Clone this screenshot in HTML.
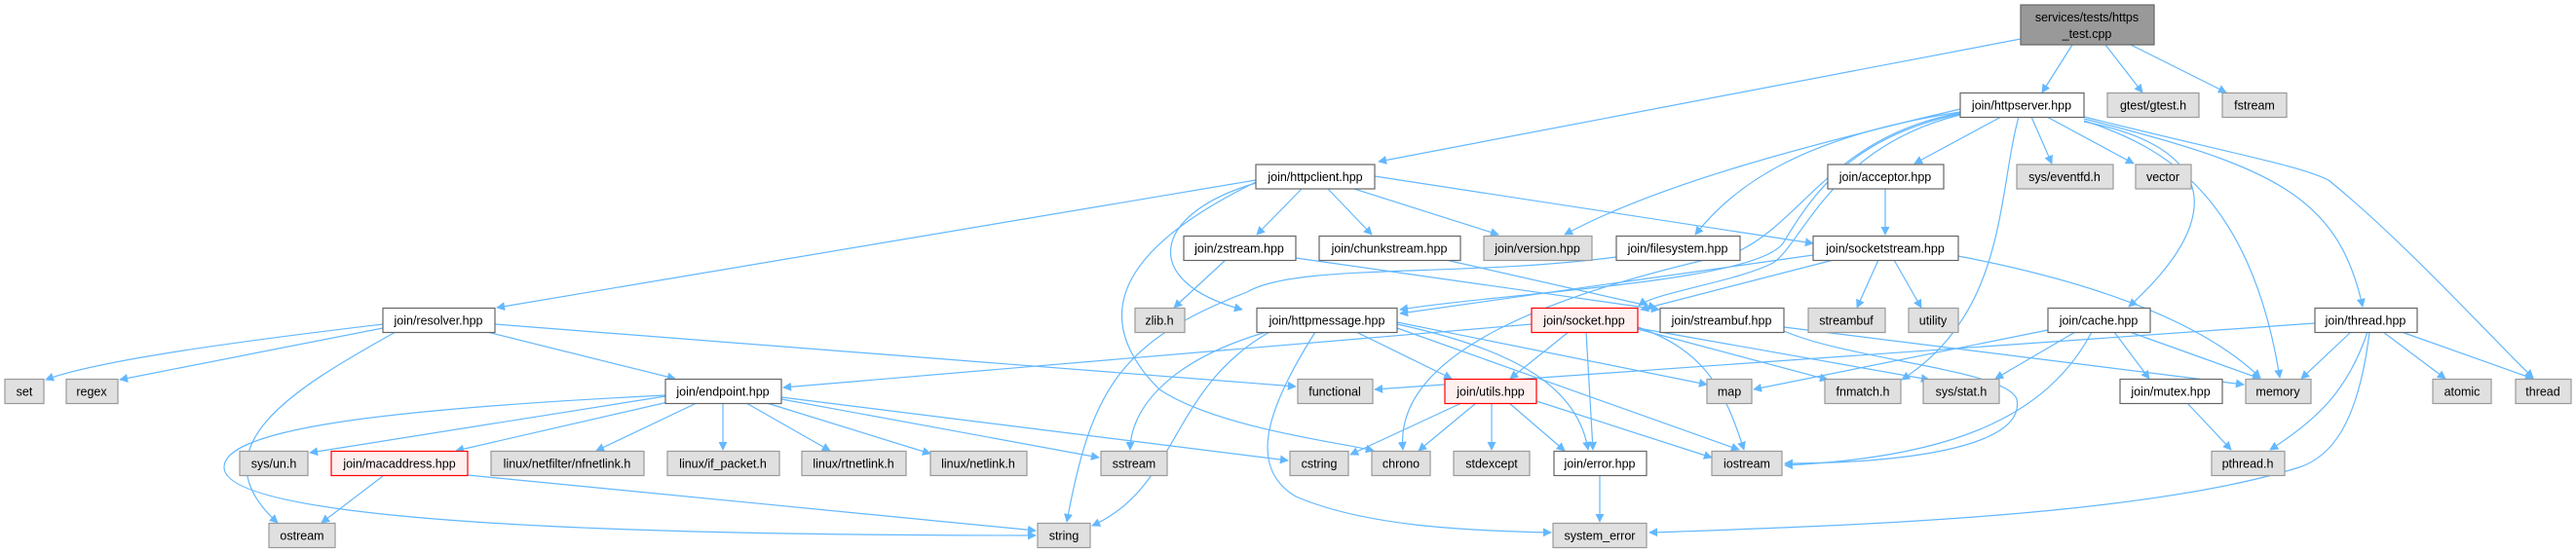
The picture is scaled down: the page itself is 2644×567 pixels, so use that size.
<!DOCTYPE html>
<html><head><meta charset="utf-8"><style>
html,body{margin:0;padding:0;background:#fff;}
svg{display:block;}
text{font-family:"Liberation Sans",Arial,sans-serif;font-size:12.5px;fill:#000;text-anchor:middle;}
.e{fill:none;stroke:#63b8ff;stroke-width:1.2;marker-end:url(#a);}
.w{fill:#fff;stroke:#666;stroke-width:1.2;}
.g{fill:#e0e0e0;stroke:#999;stroke-width:1.2;}
.r{fill:#fff0f0;stroke:#f00;stroke-width:1.2;}
.k{fill:#999;stroke:#666;stroke-width:1.2;}
</style></head><body>
<svg width="2644" height="567" viewBox="0 0 2644 567" xmlns="http://www.w3.org/2000/svg">
<defs><marker id="a" viewBox="0 0 10 10" refX="9" refY="5" markerWidth="9" markerHeight="9" markerUnits="userSpaceOnUse" orient="auto"><path d="M0,0 L10,5 L0,10 z" fill="#63b8ff"/></marker></defs>
<g>
<path class="e" d="M2074,40 L1415,166"/>
<path class="e" d="M2127,46 L2096,95"/>
<path class="e" d="M2161,46 L2199,95"/>
<path class="e" d="M2187,46 L2285,95"/>
<path class="e" d="M2054,120 L1965,168"/>
<path class="e" d="M2085,120 L2106,168"/>
<path class="e" d="M2101,120 L2190,168"/>
<path class="e" d="M2139,125 C2270,150 2290,220 2185,315"/>
<path class="e" d="M2139,124 C2220,150 2310,200 2340,388"/>
<path class="e" d="M2139,122 C2330,170 2400,200 2425,315"/>
<path class="e" d="M2139,120 C2300,160 2360,170 2390,185 C2470,250 2560,350 2600,388"/>
<path class="e" d="M2072,120 C2050,200 2060,320 1952,390"/>
<path class="e" d="M2012,112 C1850,150 1700,190 1606,241"/>
<path class="e" d="M2012,115 C1850,140 1780,190 1740,241"/>
<path class="e" d="M2012,117 C1900,140 1860,200 1830,250 C1800,290 1550,300 1437,318"/>
<path class="e" d="M2012,118 C1880,150 1850,250 1820,270 C1780,290 1700,300 1682,314"/>
<path class="e" d="M2012,116 C1880,140 1850,230 1780,260 C1600,300 1430,360 1440,462"/>
<path class="e" d="M1289,185 L510,316"/>
<path class="e" d="M1336,194 L1290,241"/>
<path class="e" d="M1363,194 L1408,241"/>
<path class="e" d="M1390,194 L1538,241"/>
<path class="e" d="M1411,181 L1861,250"/>
<path class="e" d="M1289,188 C1180,220 1170,290 1275,318"/>
<path class="e" d="M1289,187 C1160,250 1110,320 1190,400 C1250,440 1380,455 1410,463"/>
<path class="e" d="M1258,267 L1205,316"/>
<path class="e" d="M1330,265 L1703,318"/>
<path class="e" d="M1484,267 L1700,316"/>
<path class="e" d="M1659,264 C1500,285 1330,270 1280,300 C1150,350 1120,400 1095,536"/>
<path class="e" d="M1928,267 L1906,316"/>
<path class="e" d="M1944,267 L1972,316"/>
<path class="e" d="M2010,263 C2150,290 2260,330 2320,388"/>
<path class="e" d="M1882,267 L1684,318"/>
<path class="e" d="M1861,262 L1437,322"/>
<path class="e" d="M1935,194 L1935,241"/>
<path class="e" d="M393,333 C250,350 100,370 47,390"/>
<path class="e" d="M393,337 L123,390"/>
<path class="e" d="M500,341 L693,389"/>
<path class="e" d="M508,333 L1330,397"/>
<path class="e" d="M406,341 C300,400 200,460 285,537"/>
<path class="e" d="M683,407 L318,465"/>
<path class="e" d="M690,412 L468,463"/>
<path class="e" d="M715,414 L612,463"/>
<path class="e" d="M742,414 L742,462"/>
<path class="e" d="M766,414 L852,463"/>
<path class="e" d="M787,414 L955,466"/>
<path class="e" d="M802,410 L1128,470"/>
<path class="e" d="M802,408 L1322,473"/>
<path class="e" d="M683,406 C400,420 230,440 230,480 C230,540 700,550 1063,550"/>
<path class="e" d="M393,489 L330,537"/>
<path class="e" d="M480,488 L1063,545"/>
<path class="e" d="M1572,333 L804,398"/>
<path class="e" d="M1610,341 L1550,389"/>
<path class="e" d="M1628,341 L1635,462"/>
<path class="e" d="M1681,336 C1750,360 1770,400 1790,462"/>
<path class="e" d="M1681,338 L1876,390"/>
<path class="e" d="M1681,337 L1980,390"/>
<path class="e" d="M1300,341 C1200,370 1160,420 1160,462"/>
<path class="e" d="M1303,341 C1200,400 1210,500 1121,540"/>
<path class="e" d="M1392,341 L1490,389"/>
<path class="e" d="M1434,333 C1560,360 1620,400 1630,462"/>
<path class="e" d="M1434,337 L1785,462"/>
<path class="e" d="M1434,331 L1752,395"/>
<path class="e" d="M1350,341 C1300,420 1280,480 1330,510 C1400,540 1500,545 1592,547"/>
<path class="e" d="M1500,414 L1386,467"/>
<path class="e" d="M1515,414 L1456,463"/>
<path class="e" d="M1531,414 L1531,462"/>
<path class="e" d="M1549,414 L1606,463"/>
<path class="e" d="M1577,412 L1757,470"/>
<path class="e" d="M1642,488 L1642,536"/>
<path class="e" d="M1831,336 L2303,395"/>
<path class="e" d="M1831,340 C1900,370 2060,380 2070,410 C2080,460 1950,476 1832,476"/>
<path class="e" d="M2102,339 L1800,400"/>
<path class="e" d="M2130,341 L2048,389"/>
<path class="e" d="M2170,341 L2206,389"/>
<path class="e" d="M2186,341 L2320,389"/>
<path class="e" d="M2147,341 C2100,430 2000,470 1832,478"/>
<path class="e" d="M2376,332 L1411,400"/>
<path class="e" d="M2413,341 L2362,389"/>
<path class="e" d="M2446,341 L2510,389"/>
<path class="e" d="M2465,341 L2600,389"/>
<path class="e" d="M2430,341 C2410,400 2380,430 2330,462"/>
<path class="e" d="M2432,341 C2420,440 2390,470 2360,480 C2200,530 1900,540 1693,547"/>
<path class="e" d="M2245,414 L2290,462"/>
</g>
<g>
<rect class="k" x="2074" y="5" width="137" height="41"/><text x="2142" y="22">services/tests/https</text><text x="2142" y="39">_test.cpp</text>
<rect class="w" x="2012" y="95.5" width="127" height="25"/><text x="2075" y="112.5">join/httpserver.hpp</text>
<rect class="g" x="2163" y="95.5" width="94" height="25"/><text x="2210" y="112.5">gtest/gtest.h</text>
<rect class="g" x="2281" y="95.5" width="66" height="25"/><text x="2314" y="112.5">fstream</text>
<rect class="w" x="1289" y="169" width="122" height="25"/><text x="1350" y="186">join/httpclient.hpp</text>
<rect class="w" x="1876" y="169" width="119" height="25"/><text x="1935" y="186">join/acceptor.hpp</text>
<rect class="g" x="2070" y="169" width="99" height="25"/><text x="2119" y="186">sys/eventfd.h</text>
<rect class="g" x="2192" y="169" width="57" height="25"/><text x="2220" y="186">vector</text>
<rect class="w" x="1215" y="242.5" width="115" height="25"/><text x="1272" y="259.5">join/zstream.hpp</text>
<rect class="w" x="1354" y="242.5" width="145" height="25"/><text x="1426" y="259.5">join/chunkstream.hpp</text>
<rect class="g" x="1523" y="242.5" width="111" height="25"/><text x="1578" y="259.5">join/version.hpp</text>
<rect class="w" x="1659" y="242.5" width="127" height="25"/><text x="1722" y="259.5">join/filesystem.hpp</text>
<rect class="w" x="1861" y="242.5" width="149" height="25"/><text x="1935" y="259.5">join/socketstream.hpp</text>
<rect class="w" x="393" y="316.5" width="115" height="25"/><text x="450" y="333.5">join/resolver.hpp</text>
<rect class="g" x="1165" y="316.5" width="51" height="25"/><text x="1190" y="333.5">zlib.h</text>
<rect class="w" x="1290" y="316.5" width="144" height="25"/><text x="1362" y="333.5">join/httpmessage.hpp</text>
<rect class="r" x="1572" y="316.5" width="109" height="25"/><text x="1626" y="333.5">join/socket.hpp</text>
<rect class="w" x="1704" y="316.5" width="127" height="25"/><text x="1767" y="333.5">join/streambuf.hpp</text>
<rect class="g" x="1856" y="316.5" width="79" height="25"/><text x="1895" y="333.5">streambuf</text>
<rect class="g" x="1959" y="316.5" width="51" height="25"/><text x="1984" y="333.5">utility</text>
<rect class="w" x="2102" y="316.5" width="105" height="25"/><text x="2154" y="333.5">join/cache.hpp</text>
<rect class="w" x="2376" y="316.5" width="105" height="25"/><text x="2428" y="333.5">join/thread.hpp</text>
<rect class="g" x="5" y="389.5" width="40" height="25"/><text x="25" y="406.5">set</text>
<rect class="g" x="68" y="389.5" width="53" height="25"/><text x="94" y="406.5">regex</text>
<rect class="w" x="683" y="389.5" width="119" height="25"/><text x="742" y="406.5">join/endpoint.hpp</text>
<rect class="g" x="1332" y="389.5" width="77" height="25"/><text x="1370" y="406.5">functional</text>
<rect class="r" x="1483" y="389.5" width="94" height="25"/><text x="1530" y="406.5">join/utils.hpp</text>
<rect class="g" x="1752" y="389.5" width="46" height="25"/><text x="1775" y="406.5">map</text>
<rect class="g" x="1873" y="389.5" width="78" height="25"/><text x="1912" y="406.5">fnmatch.h</text>
<rect class="g" x="1974" y="389.5" width="78" height="25"/><text x="2013" y="406.5">sys/stat.h</text>
<rect class="w" x="2176" y="389.5" width="105" height="25"/><text x="2228" y="406.5">join/mutex.hpp</text>
<rect class="g" x="2305" y="389.5" width="67" height="25"/><text x="2338" y="406.5">memory</text>
<rect class="g" x="2497" y="389.5" width="60" height="25"/><text x="2527" y="406.5">atomic</text>
<rect class="g" x="2582" y="389.5" width="57" height="25"/><text x="2610" y="406.5">thread</text>
<rect class="g" x="246" y="463.5" width="70" height="25"/><text x="281" y="480.5">sys/un.h</text>
<rect class="r" x="340" y="463.5" width="140" height="25"/><text x="410" y="480.5">join/macaddress.hpp</text>
<rect class="g" x="504" y="463.5" width="157" height="25"/><text x="582" y="480.5">linux/netfilter/nfnetlink.h</text>
<rect class="g" x="685" y="463.5" width="115" height="25"/><text x="742" y="480.5">linux/if_packet.h</text>
<rect class="g" x="823" y="463.5" width="107" height="25"/><text x="876" y="480.5">linux/rtnetlink.h</text>
<rect class="g" x="955" y="463.5" width="99" height="25"/><text x="1004" y="480.5">linux/netlink.h</text>
<rect class="g" x="1130" y="463.5" width="68" height="25"/><text x="1164" y="480.5">sstream</text>
<rect class="g" x="1324" y="463.5" width="60" height="25"/><text x="1354" y="480.5">cstring</text>
<rect class="g" x="1408" y="463.5" width="60" height="25"/><text x="1438" y="480.5">chrono</text>
<rect class="g" x="1492" y="463.5" width="78" height="25"/><text x="1531" y="480.5">stdexcept</text>
<rect class="w" x="1595" y="463.5" width="95" height="25"/><text x="1642" y="480.5">join/error.hpp</text>
<rect class="g" x="1757" y="463.5" width="72" height="25"/><text x="1793" y="480.5">iostream</text>
<rect class="g" x="2270" y="463.5" width="75" height="25"/><text x="2307" y="480.5">pthread.h</text>
<rect class="g" x="276" y="537.5" width="68" height="25"/><text x="310" y="554.5">ostream</text>
<rect class="g" x="1065" y="537.5" width="54" height="25"/><text x="1092" y="554.5">string</text>
<rect class="g" x="1594" y="537.5" width="96" height="25"/><text x="1642" y="554.5">system_error</text>
</g>
</svg>
</body></html>
